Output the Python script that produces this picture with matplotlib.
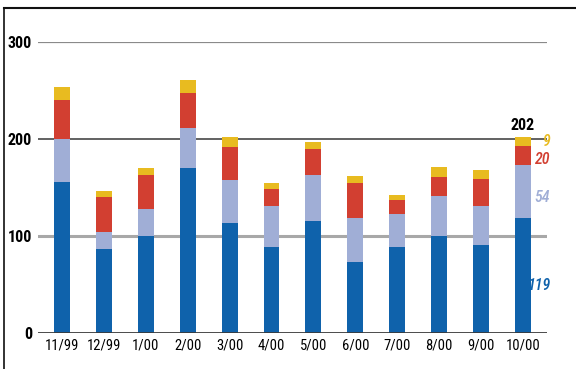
import matplotlib
matplotlib.use("Agg")
import matplotlib.pyplot as plt
from matplotlib.lines import Line2D
import numpy as np

# monthly counts, stacked bottom to top
months = ["11/99", "12/99", "1/00", "2/00", "3/00", "4/00",
          "5/00", "6/00", "7/00", "8/00", "9/00", "10/00"]
blue_vals = [156, 87, 100, 170, 113, 89, 115, 73, 89, 100, 91, 119]
lav_vals = [44, 17, 28, 41, 45, 42, 48, 46, 34, 41, 40, 54]
red_vals = [40, 36, 35, 36, 34, 17, 27, 36, 14, 20, 28, 20]
gold_vals = [14, 6, 7, 14, 10, 7, 7, 7, 5, 10, 9, 9]

yticks = [0, 100, 200, 300]

BLUE = "#0f62ab"
LAV = "#a0aed6"
RED = "#d23f31"
GOLD = "#e8bb20"

plt.rcParams["font.family"] = ["Roboto Condensed", "Liberation Sans Narrow", "DejaVu Sans"]
plt.rcParams["font.stretch"] = "condensed"

fig = plt.figure(figsize=(5.76, 3.69), dpi=100)
ax = fig.add_axes([37.5 / 576, 1 - 333 / 369, 509.5 / 576, 291 / 369])

x = np.arange(len(months))
w = 0.38
bottom = np.zeros(len(months))
for vals, col in [(blue_vals, BLUE), (lav_vals, LAV),
                  (red_vals, RED), (gold_vals, GOLD)]:
    ax.bar(x, vals, w, bottom=bottom, color=col, zorder=3)
    bottom += np.array(vals)

# horizontal rules
grid_style = {0: ("#3a3a3a", 2.0), 100: ("#a8a8a8", 2.2),
              200: ("#555555", 1.3), 300: ("#8a8a8a", 1.6)}
for yv in yticks:
    c, lw = grid_style[yv]
    ax.axhline(yv, color=c, lw=lw, zorder=2 if yv else 4)

ax.set_xlim(-0.585, 11.575)
ax.set_ylim(0, 300)
for s in ax.spines.values():
    s.set_visible(False)
ax.set_xticks(x)
ax.set_xticklabels(months, fontsize=10.5)
ax.set_yticks(yticks)
ax.set_yticklabels([str(v) for v in yticks], fontsize=11.5, fontweight="bold")
ax.tick_params(length=0)
ax.tick_params(axis="x", pad=4)
ax.tick_params(axis="y", pad=4)

# callouts for the latest month
last = len(months) - 1
total = blue_vals[last] + lav_vals[last] + red_vals[last] + gold_vals[last]
ax.text(last, total + 4, str(total), ha="center", va="bottom",
        fontsize=11.5, fontweight="bold", color="black", clip_on=False)
lx = last + 0.65
callouts = [(gold_vals[last], GOLD, 197), (red_vals[last], RED, 179),
            (lav_vals[last], LAV, 140), (blue_vals[last], BLUE, 49)]
for val, col, yv in callouts:
    ax.text(lx, yv, str(val), ha="right", va="center", fontsize=11.5,
            fontweight="medium", fontstyle="italic", color=col, clip_on=False)

# outer frame: top and left rules
fig.add_artist(Line2D([3.5 / 576, 3.5 / 576], [0, 1 - 8 / 369],
                      transform=fig.transFigure, color="#222222", lw=1.3))
fig.add_artist(Line2D([3.5 / 576, 1], [1 - 8 / 369, 1 - 8 / 369],
                      transform=fig.transFigure, color="#111111", lw=1.5))

fig.savefig("out.png", dpi=100)
